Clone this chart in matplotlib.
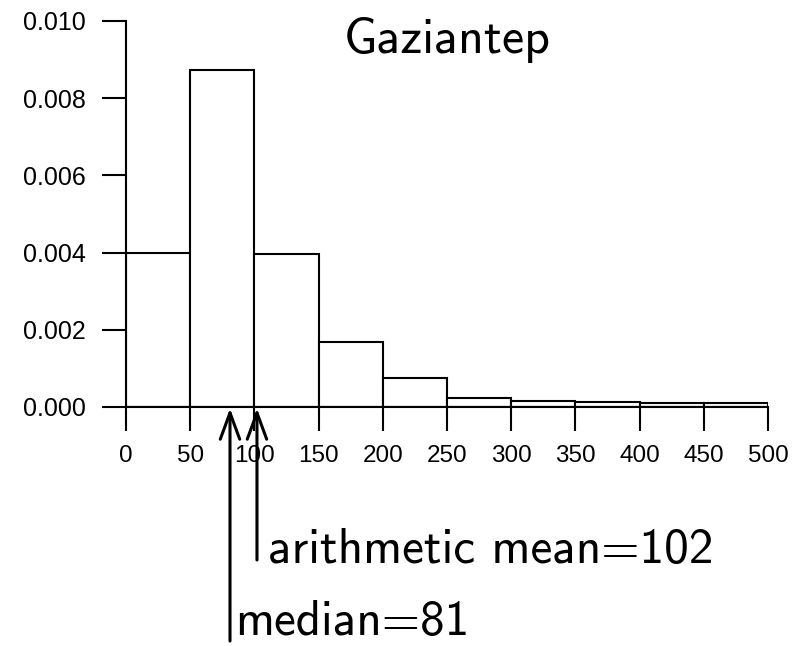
import matplotlib
matplotlib.use("Agg")
import matplotlib.pyplot as plt
import numpy as np

plt.rcParams["font.family"] = ["Liberation Sans", "DejaVu Sans"]
plt.rcParams["axes.unicode_minus"] = False

# Histogram of values (density scale), 50-wide bins
bin_edges = [0, 50, 100, 150, 200, 250, 300, 350, 400, 450, 500]
densities = [0.00399, 0.00873, 0.00396, 0.00168, 0.00075,
             0.000225, 0.00016, 0.00014, 0.00011, 0.000095]
x_ticks = [0, 50, 100, 150, 200, 250, 300, 350, 400, 450, 500]
y_ticks = [0.000, 0.002, 0.004, 0.006, 0.008, 0.010]
title = "Gaziantep"
median_value = 81
mean_value = 102

CM_SANS = ["cmss10", "DejaVu Sans"]

W, H = 801, 646
fig = plt.figure(figsize=(W / 100, H / 100), dpi=100)
ax = fig.add_axes([126 / W, 1 - 407 / H, (768 - 126) / W, (407 - 21) / H])

lefts = np.array(bin_edges[:-1])
widths = np.diff(bin_edges)
ax.bar(lefts, densities, width=widths, align="edge", facecolor="white",
       edgecolor="black", linewidth=1.5, zorder=2)
ax.axhline(0, color="black", linewidth=1.5, zorder=3)

ax.set_xlim(0, 500)
ax.set_ylim(0, 0.010)
ax.set_xticks(x_ticks)
ax.set_xticklabels([str(v) for v in x_ticks])
ax.set_yticks(y_ticks)
ax.set_yticklabels([f"{v:.3f}" for v in y_ticks])
for s in ("top", "right"):
    ax.spines[s].set_visible(False)
for s in ("left", "bottom"):
    ax.spines[s].set_linewidth(1.5)
ax.tick_params(axis="both", direction="out", length=17, width=1.5)
ax.tick_params(axis="x", labelsize=17.5, pad=10)
ax.tick_params(axis="y", labelsize=18, pad=12)

# Title inside the plotting area
fig.text(447 / W, 1 - 53 / H, title, ha="center", va="baseline",
         fontsize=36, family=CM_SANS)

# Arrows marking the median and the mean
def mark(value, bottom_px, label, text_x_px, baseline_px):
    ax.annotate("", xy=(value, 0), xycoords="data",
                xytext=(value, H - bottom_px),
                textcoords=("data", "figure pixels"),
                arrowprops=dict(arrowstyle="->,head_length=1.9,head_width=0.7",
                                color="black", lw=2.2, shrinkA=0, shrinkB=1),
                annotation_clip=False)
    fig.text(text_x_px / W, 1 - baseline_px / H, label, ha="left",
             va="baseline", fontsize=35.4, family=CM_SANS)

mark(mean_value, 560, f"arithmetic mean={mean_value}", 268, 563)
mark(median_value, 641, f"median={median_value}", 235, 635)

fig.savefig("out.png", dpi=100)
